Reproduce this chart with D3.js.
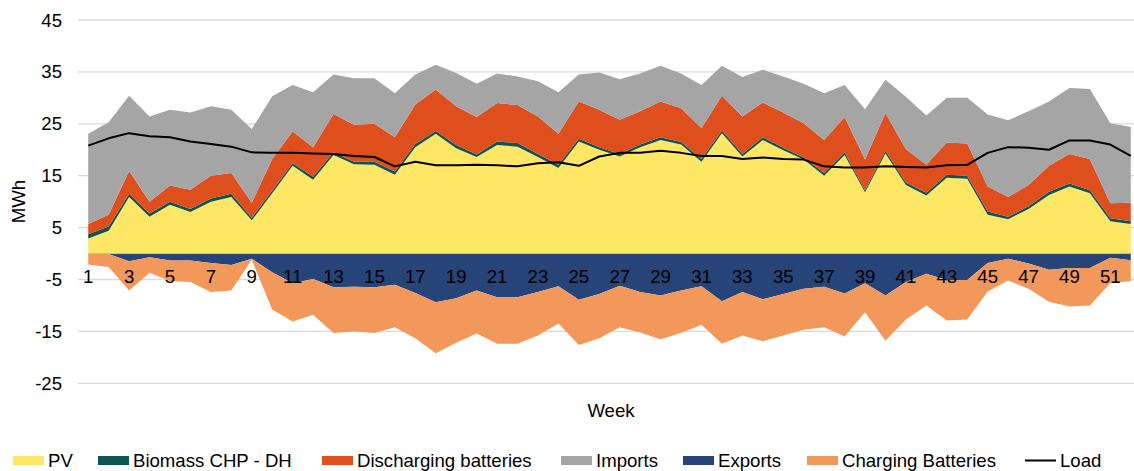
<!DOCTYPE html>
<html>
<head>
<meta charset="utf-8">
<script src="https://cdn.jsdelivr.net/npm/d3@7/dist/d3.min.js"></script>
<style>
  html, body { margin: 0; padding: 0; background: #fff; }
  svg { display: block; font-family: "Liberation Sans", Arial, sans-serif; }
</style>
</head>
<body>
<svg id="chart" width="1134" height="471"></svg>
<script>
// Weekly energy balance (MWh)
const weeks = d3.range(1, 53);

const pv = [2.9,4.4,10.9,7.1,9.4,8.0,10.0,10.9,6.4,11.6, 16.9,14.2,19.0,17.2,17.1,15.2,20.5,23.1,20.3,18.6,
            20.9,20.6,18.6,16.5,21.6,20.0,18.7,20.5,21.9,21.0, 17.7,23.2,18.7,21.9,19.9,18.1,15.0,19.0,11.8,19.3,
            13.2,11.2,14.6,14.4,7.5,6.6,8.6,11.3,12.9,11.6, 6.2,5.7];
const biomass = [0.8,0.8,0.6,0.6,0.6,0.6,0.6,0.6,0.5,0.5, 0.5,0.6,0.5,0.5,0.6,0.6,0.6,0.5,0.6,0.5,
                 0.7,0.7,0.6,0.6,0.5,0.5,0.5,0.5,0.5,0.5, 0.5,0.5,0.5,0.5,0.5,0.4,0.5,0.5,0.4,0.5,
                 0.5,0.5,0.6,0.6,0.6,0.5,0.5,0.6,0.6,0.6, 0.6,0.5];
const discharging = [2.0,2.3,4.4,2.3,3.1,3.7,4.4,4.0,2.9,6.1, 6.1,5.7,7.4,7.1,7.3,6.6,7.6,8.0,7.5,7.2,
                     7.4,7.3,7.2,6.0,7.2,7.2,6.6,6.4,6.9,6.5, 6.0,6.7,7.2,6.7,6.8,6.6,6.4,6.8,5.9,7.3,
                     6.4,5.4,6.2,6.2,4.8,3.8,4.1,5.0,5.7,6.0, 2.9,3.6];
const imports = [17.4,17.8,14.5,16.4,14.6,14.9,13.4,12.2,14.2,12.1, 9.0,10.6,7.6,9.0,8.8,8.5,5.8,4.8,6.4,6.4,
                 5.7,5.5,6.8,8.0,5.2,7.2,7.8,7.3,6.9,6.7, 8.3,5.8,7.6,6.3,6.9,7.6,9.0,6.2,9.7,6.4,
                 10.1,9.5,8.6,8.8,13.9,14.8,14.2,12.4,12.7,13.5, 15.4,14.6];
const exports = [0,-0.1,-1.5,-0.7,-1.35,-1.35,-1.8,-2.2,-1.0,-3.6, -5.7,-4.9,-6.5,-6.4,-6.5,-6.0,-7.6,-9.4,-8.6,-7.1,
                 -8.4,-8.4,-7.4,-6.3,-8.9,-7.8,-6.2,-7.4,-8.1,-7.1, -6.3,-9.2,-7.4,-8.8,-7.8,-6.8,-6.4,-7.7,-5.7,-8.1,
                 -5.5,-3.9,-5.1,-5.1,-1.8,-1.0,-1.9,-3.1,-2.8,-2.8, -0.8,-1.3];
const charging = [-2.1,-2.5,-5.6,-3.0,-3.95,-4.15,-5.6,-4.9,-0.2,-7.2, -7.4,-6.9,-8.8,-8.6,-8.8,-8.2,-8.7,-9.8,-8.6,-8.3,
                  -9.0,-9.0,-8.4,-7.2,-8.7,-8.5,-8.0,-7.8,-8.4,-8.2, -7.4,-8.2,-8.4,-8.1,-8.0,-7.9,-7.8,-8.3,-5.6,-8.7,
                  -7.2,-6.1,-7.8,-7.6,-5.5,-4.2,-4.9,-6.2,-7.4,-7.2, -4.9,-4.0];
const load = [20.8,22.2,23.2,22.6,22.4,21.6,21.1,20.6,19.5,19.4, 19.4,19.3,19.2,18.8,18.6,16.8,17.7,17.0,17.0,17.1,
              17.0,16.8,17.4,17.6,16.9,18.7,19.4,19.4,19.8,19.4, 18.8,18.8,18.2,18.5,18.2,18.1,16.8,16.6,16.6,16.8,
              16.7,16.6,17.0,17.1,19.4,20.5,20.4,20.0,21.8,21.8, 21.0,18.8];

const yTicks = [-25, -15, -5, 5, 15, 25, 35, 45];
const weekLabels = weeks.filter(w => w % 2 === 1);

const seriesDefs = [
  { key: "PV", values: pv, color: "#FFE766" },
  { key: "Biomass CHP - DH", values: biomass, color: "#0C5552" },
  { key: "Discharging batteries", values: discharging, color: "#DF4E1D" },
  { key: "Imports", values: imports, color: "#A5A5A5" },
  { key: "Exports", values: exports, color: "#264478" },
  { key: "Charging Batteries", values: charging, color: "#F1985A" }
];

const rows = weeks.map((w, i) => {
  const r = { week: w };
  seriesDefs.forEach(s => { r[s.key] = s.values[i]; });
  return r;
});

const svg = d3.select("#chart");
const x = d3.scalePoint().domain(weeks).range([78, 1141]).padding(0.5);
const y = d3.scaleLinear().domain([-25, 45]).range([383.3, 20]);

// gridlines
svg.append("g").selectAll("line").data(yTicks).join("line")
  .attr("x1", 78).attr("x2", 1141)
  .attr("y1", d => y(d)).attr("y2", d => y(d))
  .attr("stroke", "#D9D9D9").attr("stroke-width", 1.3);

// stacked areas (positives up, negatives down)
const stack = d3.stack().keys(seriesDefs.map(s => s.key)).offset(d3.stackOffsetDiverging);
const layers = stack(rows);
const area = d3.area()
  .x(d => x(d.data.week))
  .y0(d => y(d[0]))
  .y1(d => y(d[1]));

svg.append("g").selectAll("path").data(layers).join("path")
  .attr("d", area)
  .attr("fill", (d, i) => seriesDefs[i].color);

// horizontal axis line at zero
svg.append("line")
  .attr("x1", x(1)).attr("x2", x(52))
  .attr("y1", y(0)).attr("y2", y(0))
  .attr("stroke", "#B7C0CF").attr("stroke-width", 1);

// load line
svg.append("path")
  .datum(load)
  .attr("fill", "none")
  .attr("stroke", "#000")
  .attr("stroke-width", 2)
  .attr("stroke-linejoin", "round")
  .attr("d", d3.line().x((d, i) => x(weeks[i])).y(d => y(d)));

const fs = "18.6px";

// y tick labels
svg.append("g").selectAll("text").data(yTicks).join("text")
  .attr("x", 62).attr("y", d => y(d))
  .attr("dy", "0.35em")
  .attr("text-anchor", "end")
  .attr("font-size", fs).attr("fill", "#000")
  .text(d => d);

// week labels along the zero line
svg.append("g").selectAll("text").data(weekLabels).join("text")
  .attr("x", d => x(d)).attr("y", 283)
  .attr("text-anchor", "middle")
  .attr("font-size", fs).attr("fill", "#000")
  .text(d => d);

// axis titles
svg.append("text")
  .attr("transform", `translate(25,${(y(45) + y(-25)) / 2}) rotate(-90)`)
  .attr("text-anchor", "middle")
  .attr("font-size", fs).attr("fill", "#000")
  .text("MWh");

svg.append("text")
  .attr("x", 611).attr("y", 417)
  .attr("text-anchor", "middle")
  .attr("font-size", fs).attr("fill", "#000")
  .text("Week");

// legend
const legendItems = [
  { label: "PV", color: "#FFE766", x: 13, type: "box" },
  { label: "Biomass CHP - DH", color: "#0C5552", x: 98, type: "box" },
  { label: "Discharging batteries", color: "#DF4E1D", x: 322, type: "box" },
  { label: "Imports", color: "#A5A5A5", x: 561, type: "box" },
  { label: "Exports", color: "#264478", x: 683, type: "box" },
  { label: "Charging Batteries", color: "#F1985A", x: 807, type: "box" },
  { label: "Load", color: "#000", x: 1025, type: "line" }
];
const lg = svg.append("g").selectAll("g").data(legendItems).join("g")
  .attr("transform", d => `translate(${d.x},0)`);
lg.filter(d => d.type === "box").append("rect")
  .attr("x", 0).attr("y", 456).attr("width", 31).attr("height", 9)
  .attr("fill", d => d.color);
lg.filter(d => d.type === "line").append("line")
  .attr("x1", 0).attr("x2", 31).attr("y1", 460.5).attr("y2", 460.5)
  .attr("stroke", d => d.color).attr("stroke-width", 2);
lg.append("text")
  .attr("x", 35).attr("y", 467)
  .attr("font-size", fs).attr("fill", "#000")
  .text(d => d.label);
</script>
</body>
</html>
